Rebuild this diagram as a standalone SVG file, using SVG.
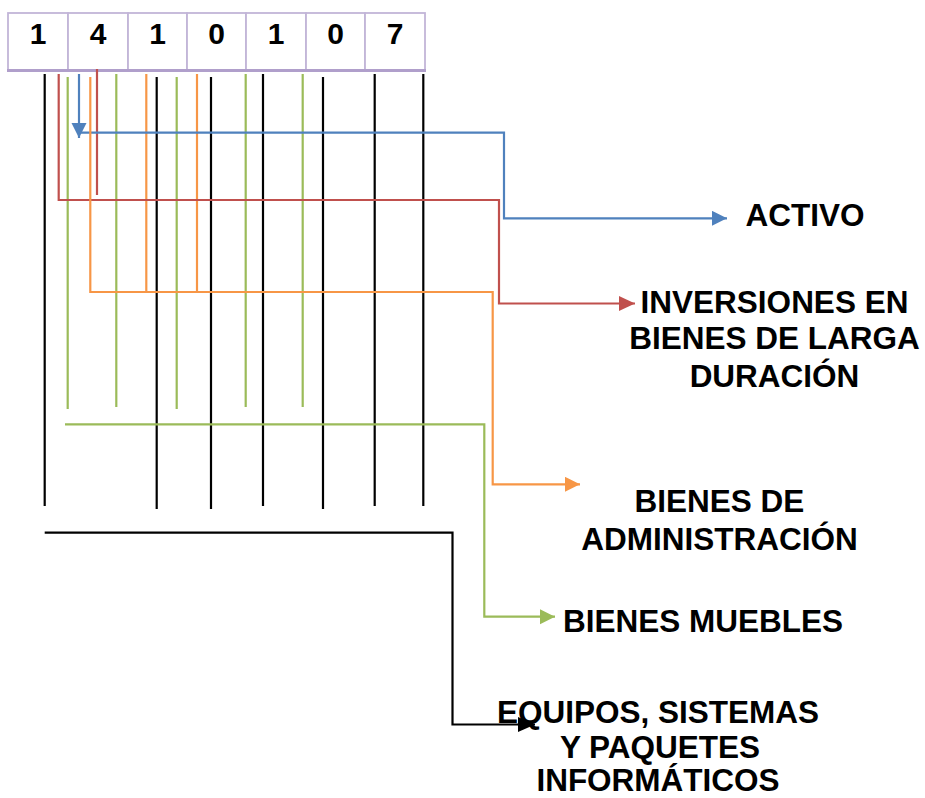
<svg xmlns="http://www.w3.org/2000/svg" width="925" height="798" viewBox="0 0 925 798">
<style>
  .lbl { font-family: "Liberation Sans", Arial, sans-serif; font-weight: bold; font-size: 31.5px; fill: #000; text-anchor: middle; }
  .dig { font-family: "Liberation Sans", Arial, sans-serif; font-weight: bold; font-size: 30px; fill: #000; text-anchor: middle; }
  .cell { fill: #fff; stroke: #c2b5d8; stroke-width: 1.8; }
  .ln { fill: none; stroke-width: 2.2; stroke-linejoin: miter; }
  .blue { stroke: #4f81bd; }
  .red { stroke: #c0504d; }
  .orange { stroke: #f79646; }
  .green { stroke: #9bbb59; }
  .black { stroke: #000; }
</style>
<defs>
  <marker id="aBlue" markerUnits="userSpaceOnUse" markerWidth="16" markerHeight="16" refX="15" refY="7.5" orient="auto" viewBox="0 0 16 16"><path d="M0,0 L15,7.5 L0,15 z" fill="#4f81bd"/></marker>
  <marker id="aRed" markerUnits="userSpaceOnUse" markerWidth="17" markerHeight="16" refX="16" refY="7.5" orient="auto" viewBox="0 0 17 16"><path d="M0,0 L16,7.5 L0,15 z" fill="#c0504d"/></marker>
  <marker id="aOrange" markerUnits="userSpaceOnUse" markerWidth="16" markerHeight="16" refX="15" refY="7.5" orient="auto" viewBox="0 0 16 16"><path d="M0,0 L15,7.5 L0,15 z" fill="#f79646"/></marker>
  <marker id="aGreen" markerUnits="userSpaceOnUse" markerWidth="16" markerHeight="16" refX="15" refY="7.5" orient="auto" viewBox="0 0 16 16"><path d="M0,0 L15,7.5 L0,15 z" fill="#9bbb59"/></marker>
  <marker id="aBlack" markerUnits="userSpaceOnUse" markerWidth="18" markerHeight="16" refX="17" refY="7.5" orient="auto" viewBox="0 0 18 16"><path d="M0,0 L17,7.5 L0,15 z" fill="#000"/></marker>
</defs>

<g id="code-box">
  <rect class="cell" x="8" y="13" width="60" height="57"/>
  <rect class="cell" x="68" y="13" width="60" height="57"/>
  <rect class="cell" x="128" y="13" width="59" height="57"/>
  <rect class="cell" x="187" y="13" width="59" height="57"/>
  <rect class="cell" x="246" y="13" width="60" height="57"/>
  <rect class="cell" x="306" y="13" width="59" height="57"/>
  <rect class="cell" x="365" y="13" width="60" height="57"/>
  <line x1="7" y1="70.5" x2="426" y2="70.5" stroke="#b09fcb" stroke-width="3"/>
  <text class="dig" x="38" y="44">1</text>
  <text class="dig" x="98" y="44">4</text>
  <text class="dig" x="157.5" y="44">1</text>
  <text class="dig" x="216.5" y="44">0</text>
  <text class="dig" x="276" y="44">1</text>
  <text class="dig" x="335.5" y="44">0</text>
  <text class="dig" x="395" y="44">7</text>
</g>

<g id="connectors">
  <line class="ln black" x1="44.7" y1="74" x2="44.7" y2="506"/>
  <line class="ln black" x1="156.7" y1="77" x2="156.7" y2="509"/>
  <line class="ln black" x1="211" y1="77" x2="211" y2="509"/>
  <line class="ln black" x1="263" y1="74" x2="263" y2="506"/>
  <line class="ln black" x1="323" y1="77" x2="323" y2="509"/>
  <line class="ln black" x1="374.7" y1="74" x2="374.7" y2="506"/>
  <line class="ln black" x1="423.3" y1="74" x2="423.3" y2="506"/>
  <line class="ln green" x1="67.7" y1="77" x2="67.7" y2="409"/>
  <line class="ln green" x1="116.3" y1="74" x2="116.3" y2="407"/>
  <line class="ln green" x1="176.7" y1="77" x2="176.7" y2="409"/>
  <line class="ln green" x1="245.7" y1="74" x2="245.7" y2="407"/>
  <line class="ln green" x1="302.7" y1="74" x2="302.7" y2="407"/>
  <line class="ln orange" x1="146.3" y1="74" x2="146.3" y2="292"/>
  <line class="ln orange" x1="197" y1="74" x2="197" y2="292"/>
  <line class="ln red" x1="97" y1="69" x2="97" y2="195"/>
  <polyline class="ln blue" points="79,74 79,138" marker-end="url(#aBlue)"/>
  <polyline class="ln blue" points="80,132.7 504,132.7 504,218.3 727,218.3" marker-end="url(#aBlue)"/>
  <polyline class="ln red" points="58.7,74 58.7,200 499,200 499,303.5 635,303.5" marker-end="url(#aRed)"/>
  <polyline class="ln orange" points="90.3,77 90.3,292 492.7,292 492.7,484.3 580,484.3" marker-end="url(#aOrange)"/>
  <polyline class="ln green" points="65,424.3 484.3,424.3 484.3,616.7 555,616.7" marker-end="url(#aGreen)"/>
  <polyline class="ln black" points="44.7,532.7 452.5,532.7 452.5,724.5 535,724.5" stroke-width="2.5" marker-end="url(#aBlack)"/>
</g>

<g id="node-activo">
  <text class="lbl" x="805" y="226">ACTIVO</text>
</g>
<g id="node-inversiones">
  <text class="lbl" x="774.5" y="312.5">INVERSIONES EN</text>
  <text class="lbl" x="774.5" y="348.5">BIENES DE LARGA</text>
  <text class="lbl" x="774.5" y="386.5">DURACIÓN</text>
</g>
<g id="node-bienes-admin">
  <text class="lbl" x="719.5" y="511.5">BIENES DE</text>
  <text class="lbl" x="719.5" y="550">ADMINISTRACIÓN</text>
</g>
<g id="node-bienes-muebles">
  <text class="lbl" x="703" y="632">BIENES MUEBLES</text>
</g>
<g id="node-equipos">
  <text class="lbl" x="658" y="723">EQUIPOS, SISTEMAS</text>
  <text class="lbl" x="660" y="757.5">Y PAQUETES</text>
  <text class="lbl" x="658" y="791">INFORMÁTICOS</text>
</g>
</svg>
